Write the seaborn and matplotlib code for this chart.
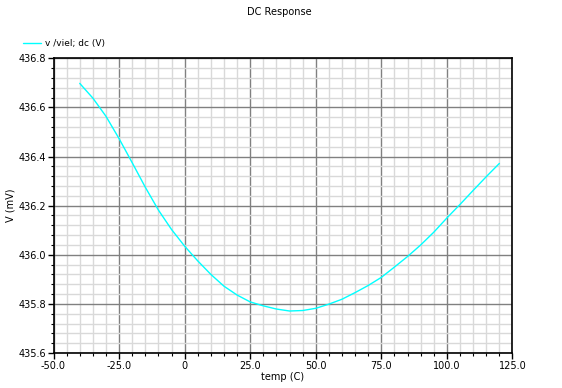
import numpy as np
import pandas as pd
import matplotlib
matplotlib.use("Agg")
import matplotlib.pyplot as plt
import seaborn as sns
from matplotlib.ticker import MultipleLocator, FuncFormatter

# DC sweep over temperature
temp = [-40, -35, -30, -25, -20, -15, -10, -5, 0, 5, 10, 15, 20, 25, 30, 35,
        40, 45, 50, 55, 60, 65, 70, 75, 80, 85, 90, 95, 100, 105, 110, 115, 120]
vout = [436.698, 436.638, 436.564, 436.473, 436.375, 436.275, 436.182, 436.103,
        436.035, 435.975, 435.920, 435.872, 435.836, 435.808, 435.792, 435.779,
        435.771, 435.773, 435.782, 435.799, 435.819, 435.846, 435.875, 435.908,
        435.950, 435.993, 436.040, 436.092, 436.150, 436.205, 436.262, 436.318,
        436.372]

series_label = "v /viel; dc (V)"
df = pd.DataFrame({"temp": temp, "v": vout})

sns.set_style("white")
plt.rcParams["font.family"] = ["DejaVu Sans"]
for key in ["text.color", "axes.labelcolor", "xtick.color", "ytick.color"]:
    plt.rcParams[key] = "black"

fig = plt.figure(figsize=(5.62, 3.88), dpi=100)
ax = fig.add_axes([0.0952, 0.0902, 0.8167, 0.7595])

sns.lineplot(data=df, x="temp", y="v", color="#00ffff", linewidth=1.0,
             label=series_label, ax=ax, zorder=5)

ax.set_xlim(-50, 125)
ax.set_ylim(435.6, 436.8)
ax.xaxis.set_major_locator(MultipleLocator(25))
ax.xaxis.set_minor_locator(MultipleLocator(5))
ax.yaxis.set_major_locator(MultipleLocator(0.2))
ax.yaxis.set_minor_locator(MultipleLocator(0.04))
ax.xaxis.set_major_formatter(FuncFormatter(lambda v, p: "0" if abs(v) < 1e-9 else f"{v:.1f}"))
ax.yaxis.set_major_formatter(FuncFormatter(lambda v, p: f"{v:.1f}"))

ax.grid(which="major", color="#808080", linewidth=1.0, zorder=1)
ax.grid(which="minor", color="#d9d9d9", linewidth=1.0, zorder=0)
ax.set_axisbelow(True)

for s in ax.spines.values():
    s.set_color("black")
    s.set_linewidth(1.2)

ax.tick_params(which="major", direction="out", length=4, width=1, labelsize=7,
               bottom=True, left=True, pad=1.5)
ax.tick_params(which="minor", direction="out", length=2.5, width=0.8,
               bottom=True, left=True)

ax.set_xlabel("temp (C)", fontsize=7, labelpad=1)
ax.set_ylabel("V (mV)", fontsize=7, labelpad=2)
fig.text(0.497, 0.968, "DC Response", ha="center", va="center", fontsize=7)

ax.legend(loc="center left", bbox_to_anchor=(-0.075, 1.05), frameon=False,
          fontsize=6.5, handlelength=2.0, handletextpad=0.5, borderaxespad=0)

fig.savefig("out.png", dpi=100)
